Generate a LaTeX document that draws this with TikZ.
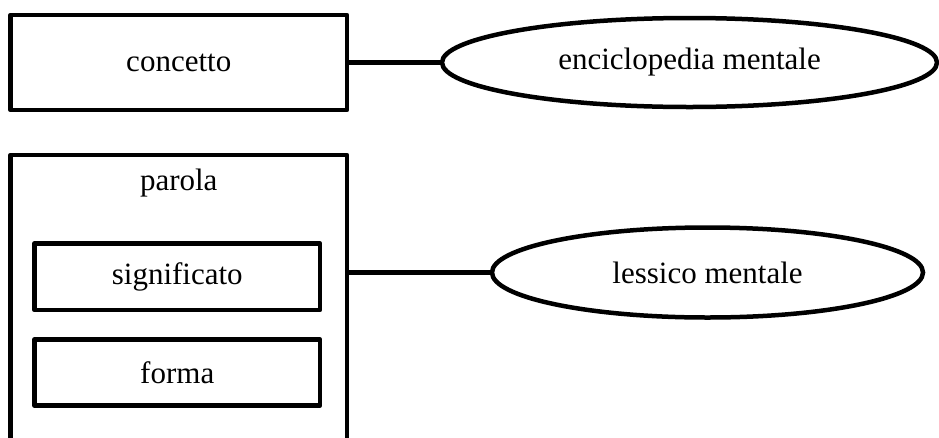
\documentclass[tikz,border=0pt]{standalone}
\usepackage{fontspec}
\setmainfont{Liberation Serif}
\usetikzlibrary{shapes.geometric}
\tikzset{
  every node/.style={font=\fontsize{31}{37}\selectfont, inner sep=0pt, outer sep=0pt},
  box/.style={draw, line width=4.5pt, line join=round, rectangle},
  oval/.style={draw, line width=4.5pt, ellipse},
  link/.style={line width=4.5pt}
}
\begin{document}
\begin{tikzpicture}[x=1pt, y=-1pt]
  \useasboundingbox (0,0) rectangle (939,437);
  \clip (0,0) rectangle (939,437);

  % upper row: concept and encyclopaedic memory
  \node[box, minimum width=336.5pt, minimum height=95pt] (concetto) at (178.75,62.5) {concetto};
  \node[oval, minimum width=495pt, minimum height=89pt] (enc) at (689.5,62.5) {enciclopedia mentale};
  \draw[link] (concetto.east) -- (enc.west);

  % lower row: word with meaning and form, and the mental lexicon
  \node[box, minimum width=336.5pt, minimum height=305pt] (parolabox) at (178.75,307.5) {};
  \node (parola) at (178.75,183) {parola};
  \node[box, minimum width=285.5pt, minimum height=66.5pt] (significato) at (177.25,276.75) {significato};
  \node[box, minimum width=285.5pt, minimum height=66pt] (forma) at (177.25,372.5) {forma};
  \node[oval, minimum width=431pt, minimum height=90pt] (lex) at (707.5,272.5) {lessico mentale};
  \draw[link] (parolabox.east |- lex.west) -- (lex.west);
\end{tikzpicture}
\end{document}
